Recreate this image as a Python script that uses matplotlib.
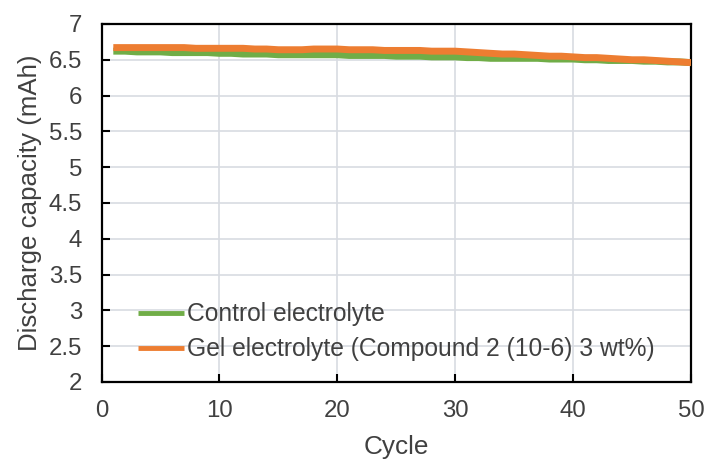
import matplotlib
matplotlib.use("Agg")
import matplotlib.pyplot as plt

plt.rcParams['font.family'] = ['Liberation Sans', 'DejaVu Sans']

cycles = list(range(1, 51))

control = [6.62, 6.62, 6.61, 6.61, 6.61, 6.60, 6.60, 6.60, 6.60, 6.59,
           6.59, 6.58, 6.58, 6.58, 6.57, 6.57, 6.57, 6.57, 6.57, 6.57,
           6.56, 6.56, 6.56, 6.56, 6.55, 6.55, 6.55, 6.54, 6.54, 6.54,
           6.53, 6.53, 6.52, 6.52, 6.52, 6.52, 6.52, 6.51, 6.51, 6.51,
           6.50, 6.50, 6.49, 6.49, 6.49, 6.48, 6.48, 6.47, 6.47, 6.46]

gel = [6.67, 6.67, 6.67, 6.67, 6.67, 6.67, 6.67, 6.66, 6.66, 6.66,
       6.66, 6.66, 6.65, 6.65, 6.64, 6.64, 6.64, 6.65, 6.65, 6.65,
       6.64, 6.64, 6.64, 6.63, 6.63, 6.63, 6.63, 6.62, 6.62, 6.62,
       6.61, 6.60, 6.59, 6.58, 6.58, 6.57, 6.56, 6.55, 6.55, 6.54,
       6.53, 6.53, 6.52, 6.51, 6.50, 6.50, 6.49, 6.48, 6.47, 6.46]

series_labels = ["Control electrolyte",
                 "Gel electrolyte (Compound 2 (10-6) 3 wt%)"]
x_ticks = [0, 10, 20, 30, 40, 50]
y_ticks = [2, 2.5, 3, 3.5, 4, 4.5, 5, 5.5, 6, 6.5, 7]

text_color = "#404040"

fig = plt.figure(figsize=(7.07, 4.59), dpi=100)
ax = fig.add_axes([0.1436, 0.1678, 0.8338, 0.78])

ax.plot(cycles, control, color="#70AD47", lw=5, solid_capstyle="butt",
        label=series_labels[0], zorder=3)
ax.plot(cycles, gel, color="#ED7D31", lw=5, solid_capstyle="butt",
        label=series_labels[1], zorder=4)

ax.set_xlim(0, 50)
ax.set_ylim(2, 7)
ax.set_xticks(x_ticks)
ax.set_yticks(y_ticks)
ax.set_yticklabels([f"{v:g}" for v in y_ticks])

ax.grid(True, color="#d8dce2", lw=1.2)
ax.set_axisbelow(True)

for s in ax.spines.values():
    s.set_color("black")
    s.set_linewidth(1.6)

ax.tick_params(axis="both", direction="in", length=6, width=1.5,
               labelsize=17.3, colors="black")
ax.tick_params(axis="x", pad=13)
ax.tick_params(axis="y", pad=14)
for lab in ax.get_xticklabels() + ax.get_yticklabels():
    lab.set_color(text_color)

ax.set_xlabel("Cycle", fontsize=18.8, color=text_color, labelpad=9)
ax.set_ylabel("Discharge capacity (mAh)", fontsize=18.6, color=text_color,
              labelpad=5)

leg = ax.legend(loc="center left", bbox_to_anchor=(0.062, 0.14),
                frameon=False, fontsize=17.7, borderpad=0, borderaxespad=0,
                handlelength=1.85, handletextpad=0.16, labelspacing=0.45,
                labelcolor=text_color)
for line in leg.get_lines():
    line.set_linewidth(3.5)

fig.savefig("out.png", dpi=100)
